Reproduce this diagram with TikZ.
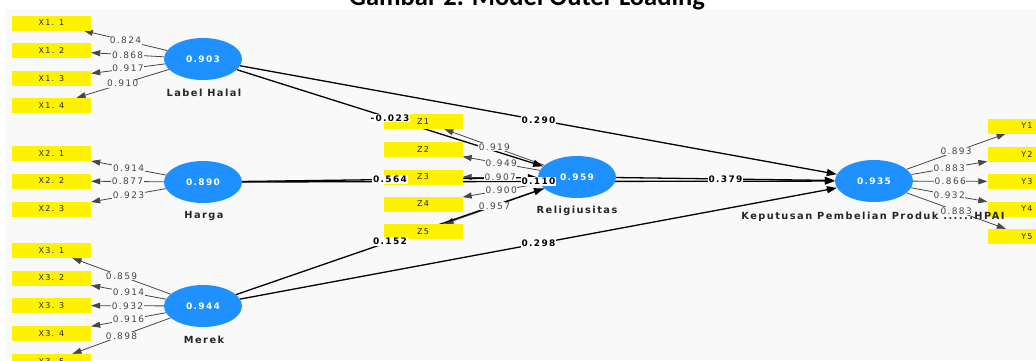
\documentclass[tikz,border=0pt]{standalone}
\usepackage{fontspec}
\usetikzlibrary{shapes.geometric,arrows.meta}
\newfontfamily\dv[LetterSpace=15]{DejaVu Sans}
\newfontfamily\carl{Carlito}
\definecolor{plsblue}{RGB}{30,144,255}
\definecolor{panel}{RGB}{249,249,249}
\definecolor{loadgray}{RGB}{70,70,70}
\pgfdeclarelayer{back}
\pgfdeclarelayer{edges}
\pgfdeclarelayer{front}
\pgfsetlayers{back,edges,main,front}
\tikzset{
  x=1pt, y=-1pt,
  construct/.style={ellipse, fill=plsblue, minimum width=78pt, minimum height=42pt, inner sep=0pt, text=white, font=\dv\bfseries\fontsize{9}{10}\selectfont},
  ind/.style={rectangle, fill=yellow, minimum width=79pt, minimum height=15pt, inner sep=0pt, text=black!85, font=\dv\fontsize{8}{9}\selectfont},
  cname/.style={font=\dv\bfseries\fontsize{9.8}{11}\selectfont, text=black!85},
  load/.style={draw=loadgray, line width=0.8pt, -{Triangle[length=9pt,width=6pt]}},
  pathline/.style={draw=black, line width=1.3pt, -{Triangle[length=10pt,width=7pt]}},
  lval/.style={font=\dv\fontsize{9}{10}\selectfont, text=loadgray, fill=panel, inner sep=0.6pt},
  pval/.style={font=\dv\bfseries\fontsize{9}{10}\selectfont, text=black, fill=white, inner sep=1pt}
}
\begin{document}
\begin{tikzpicture}
\useasboundingbox (0,0) rectangle (1036,360);
\begin{pgfonlayer}{back}
\fill[white] (0,0) rectangle (1036,360);
\fill[panel] (5,9) rectangle (1036,360);
\end{pgfonlayer}
\node[anchor=base, font=\carl\bfseries\fontsize{26.5}{30}\selectfont] (title) at (527,5) {Gambar 2. Model Outer Loading};

% constructs
\node[construct] (LH) at (203,59) {0.903};
\node[construct] (HA) at (203,182) {0.890};
\node[construct] (ME) at (203,306) {0.944};
\node[construct] (RE) at (577,177) {0.959};
\node[construct] (KE) at (874,181) {0.935};

% indicators
\node[ind] (x11) at (51.5,23) {X1. 1};
\node[ind] (x12) at (51.5,50.5) {X1. 2};
\node[ind] (x13) at (51.5,78.5) {X1. 3};
\node[ind] (x14) at (51.5,105.5) {X1. 4};
\node[ind] (x21) at (51.5,153.5) {X2. 1};
\node[ind] (x22) at (51.5,181) {X2. 2};
\node[ind] (x23) at (51.5,209) {X2. 3};
\node[ind] (x31) at (51.5,250.5) {X3. 1};
\node[ind] (x32) at (51.5,278) {X3. 2};
\node[ind] (x33) at (51.5,305.5) {X3. 3};
\node[ind] (x34) at (51.5,333.5) {X3. 4};
\node[ind] (x35) at (51.5,361.5) {X3. 5};
\node[ind] (z1) at (423,121.5) {Z1};
\node[ind] (z2) at (423,149.5) {Z2};
\node[ind] (z3) at (423,177) {Z3};
\node[ind] (z4) at (423,204) {Z4};
\node[ind] (z5) at (423,231.5) {Z5};
\node[ind, text width=71pt, align=right] (y1) at (1027,126) {Y1\hspace*{30pt}};
\node[ind, text width=71pt, align=right] (y2) at (1027,154.5) {Y2\hspace*{30pt}};
\node[ind, text width=71pt, align=right] (y3) at (1027,181.5) {Y3\hspace*{30pt}};
\node[ind, text width=71pt, align=right] (y4) at (1027,209) {Y4\hspace*{30pt}};
\node[ind, text width=71pt, align=right] (y5) at (1027,236.5) {Y5\hspace*{30pt}};

% edges
\begin{pgfonlayer}{edges}
\foreach \a/\b in {LH/x11,LH/x12,LH/x13,LH/x14,HA/x21,HA/x22,HA/x23,ME/x31,ME/x32,ME/x33,ME/x34,ME/x35,RE/z1,RE/z2,RE/z3,RE/z4,RE/z5,KE/y1,KE/y2,KE/y3,KE/y4,KE/y5}
  \draw[load] (\a) -- (\b);
\foreach \a/\b in {LH/RE,LH/KE,HA/RE,HA/KE,ME/RE,ME/KE,RE/KE}
  \draw[pathline] (\a) -- (\b);
\end{pgfonlayer}

% labels
\begin{pgfonlayer}{front}
\node[cname] (tLH) at (204,93) {Label Halal};
\node[cname] (tHA) at (204,216) {Harga};
\node[cname] (tME) at (204,340) {Merek};
\node[cname] (tRE) at (577,211) {Religiusitas};
\node[cname] (tKE) at (873,217) {Keputusan Pembelian Produk ......HPAI};
\foreach \a/\b/\v in {LH/x11/0.824,LH/x12/0.868,LH/x13/0.917,LH/x14/0.910,HA/x21/0.914,HA/x22/0.877,HA/x23/0.923,ME/x31/0.859,ME/x32/0.914,ME/x33/0.932,ME/x34/0.916,ME/x35/0.898,RE/z1/0.919,RE/z2/0.949,RE/z3/0.907,RE/z4/0.900,RE/z5/0.957,KE/y1/0.893,KE/y2/0.883,KE/y3/0.866,KE/y4/0.932,KE/y5/0.883}
  \path (\a) -- (\b) node[midway, lval] {\v};
\foreach \a/\b/\v in {LH/RE/-0.023,LH/KE/0.290,HA/RE/0.564,RE/KE/0.379,ME/RE/0.152,ME/KE/0.298,HA/KE/0.110}
  \path (\a.center) -- (\b.center) node[midway, pval] {\v};
\end{pgfonlayer}
\end{tikzpicture}
\end{document}
